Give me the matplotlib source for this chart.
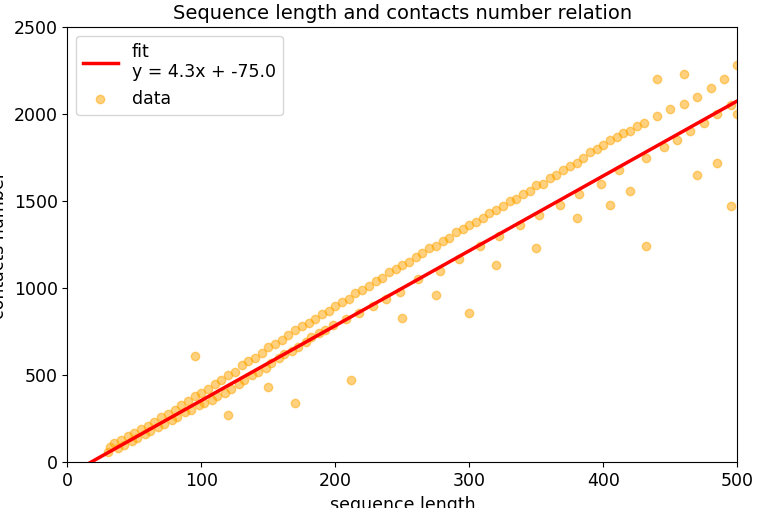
import numpy as np
import matplotlib
matplotlib.use('Agg')
import matplotlib.pyplot as plt

# points (band + outliers)
seq_len = [30, 32, 35, 38, 40, 42, 45, 48, 50, 52, 55, 58, 60, 62, 65, 68, 70, 72, 75, 78,
           80, 82, 85, 88, 90, 92, 95, 98, 100, 102, 105, 108, 110, 112, 115, 118, 120, 122,
           125, 128, 130, 132, 135, 138, 140, 142, 145, 148, 150, 152, 155, 158, 160, 162,
           165, 168, 170, 172, 175, 178, 180, 182, 185, 188, 190, 192, 195, 198, 200, 205,
           208, 210, 215, 218, 220, 225, 228, 230, 235, 238, 240, 245, 248, 250, 255, 260,
           262, 265, 270, 275, 278, 280, 285, 290, 292, 295, 300, 305, 308, 310, 315, 320,
           322, 325, 330, 335, 338, 340, 345, 350, 352, 355, 360, 365, 368, 370, 375, 380,
           382, 385, 390, 395, 398, 400, 405, 410, 412, 415, 420, 425, 430, 432, 440, 445,
           450, 455, 460, 465, 470, 475, 480, 485, 490, 495, 500, 500,
           95, 170, 212, 300, 432, 495, 350, 420, 470, 120, 150, 250, 275, 320, 380, 405,
           485, 440, 460]
contacts = [60, 90, 110, 80, 130, 100, 150, 120, 170, 140, 190, 160, 210, 180, 230, 200, 260,
            220, 280, 240, 300, 260, 330, 290, 350, 300, 380, 330, 400, 340, 420, 360, 450,
            380, 470, 400, 500, 420, 520, 450, 560, 470, 580, 500, 600, 520, 630, 540, 660,
            570, 680, 600, 700, 620, 730, 640, 760, 660, 780, 690, 800, 720, 820, 740, 850,
            760, 870, 790, 900, 920, 820, 940, 970, 860, 990, 1010, 900, 1040, 1060, 940,
            1090, 1110, 980, 1130, 1150, 1180, 1050, 1200, 1230, 1240, 1100, 1270, 1290,
            1320, 1170, 1340, 1360, 1380, 1240, 1400, 1430, 1450, 1300, 1470, 1500, 1510,
            1360, 1540, 1560, 1590, 1420, 1600, 1630, 1650, 1480, 1680, 1700, 1720, 1540,
            1750, 1780, 1800, 1600, 1820, 1850, 1870, 1680, 1890, 1900, 1930, 1950, 1750,
            1990, 1810, 2030, 1850, 2060, 1900, 2100, 1950, 2150, 2000, 2200, 2050, 2280, 2000,
            610, 340, 470, 860, 1240, 1470, 1230, 1560, 1650, 270, 430, 830, 960, 1130, 1400,
            1480, 1720, 2200, 2230]

slope = 4.3
intercept = -75.0

plt.rcParams['font.size'] = 12.5
fig, ax = plt.subplots(figsize=(7.57, 5.08), dpi=100)
xs = np.array([0, 500])
ax.plot(xs, slope * xs + intercept, color='red', lw=2.5,
        label='fit\ny = %.1fx + %.1f' % (slope, intercept), zorder=3)
ax.scatter(seq_len, contacts, color='orange', alpha=0.5, s=36, label='data')
ax.set_xlim(0, 500)
ax.set_ylim(0, 2500)
ax.set_xlabel('sequence length')
ax.set_ylabel('contacts number')
ax.set_title('Sequence length and contacts number relation', fontsize=14)
ax.legend(loc='upper left')
fig.subplots_adjust(left=0.089, right=0.974, top=0.947, bottom=0.09)
fig.savefig('out.png')
